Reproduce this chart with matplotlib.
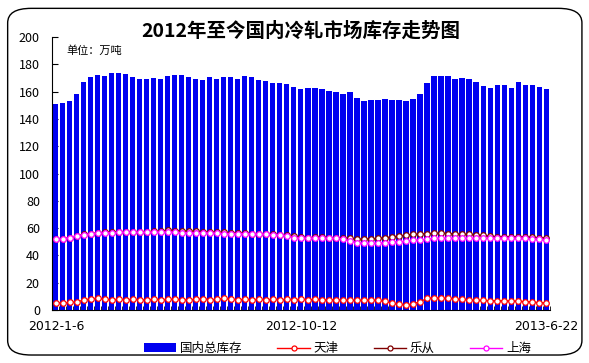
import numpy as np
import matplotlib.pyplot as plt
from matplotlib.patches import FancyBboxPatch

plt.rcParams['font.family'] = ['Noto Sans CJK SC', 'DejaVu Sans']

# weekly data, 2012-1-6 .. 2013-6-22 (71 weeks)
total = [151, 152, 153, 158, 167, 170.7, 172, 171.4, 173.4, 174,
         172.6, 170.4, 169.2, 169.2, 170.2, 169.2, 171.4, 172, 172, 170.4,
         169.2, 168.5, 170.4, 169.2, 170.7, 170.4, 169.2, 171.4, 170.4, 168.5,
         167.8, 166.5, 166, 165.6, 163.6, 162, 163, 163, 161.7, 160.4,
         160, 158.2, 159.5, 155, 152.9, 153.8, 153.8, 154.6, 153.8, 153.8,
         153.1, 154.3, 158.2, 166, 171.4, 171.4, 171.4, 169.2, 170.2, 168.9,
         167.4, 164, 163, 164.8, 164.8, 163, 166.8, 164.8, 164.8, 163.1,
         162]
tianjin = [5.4, 5.2, 5.6, 6.0, 7.3, 8.3, 8.6, 7.8, 7.6, 7.8,
           7.6, 7.8, 7.4, 7.6, 7.8, 7.6, 7.8, 7.8, 7.6, 7.6,
           7.8, 8.3, 7.6, 7.8, 8.6, 7.8, 7.6, 7.8, 7.6, 7.8,
           7.6, 7.8, 7.6, 7.8, 7.6, 7.8, 7.6, 7.8, 7.6, 7.4,
           7.6, 7.2, 7.0, 7.2, 7.0, 7.4, 7.0, 6.4, 4.8, 4.2,
           3.8, 4.6, 6.0, 8.5, 9.0, 8.6, 8.8, 8.0, 7.8, 7.4,
           7.0, 7.0, 6.8, 6.8, 6.8, 6.6, 6.4, 6.2, 6.0, 5.4,
           5.3]
lecong = [52, 52.2, 53, 54.5, 55.5, 56, 56.5, 57, 57.2, 57.2,
          57.2, 57.4, 57.4, 57.4, 57.6, 57.6, 58.6, 58.2, 58.0, 57.8,
          57.6, 57.4, 57.2, 57.0, 56.8, 56.6, 56.4, 56.2, 56.0, 55.8,
          55.6, 55.4, 55.2, 55.0, 54.0, 53.2, 53.0, 53.2, 53.4, 53.0,
          53.0, 52.6, 52.4, 51.8, 52.0, 52.2, 52.6, 53.0, 53.6, 54.2,
          55.0, 55.4, 55.6, 56.0, 56.2, 56.4, 56.0, 55.8, 55.6, 55.4,
          55.0, 54.6, 54.0, 53.8, 53.8, 53.6, 53.6, 53.4, 53.2, 53.0,
          52.8]
shanghai = [51.8, 52.0, 53.0, 54.5, 55.2, 55.8, 56.2, 56.5, 56.6, 56.8,
            56.8, 56.8, 56.8, 56.8, 57.0, 57.0, 57.0, 56.8, 56.6, 56.5,
            56.4, 56.4, 56.2, 56.2, 56.0, 56.0, 56.0, 55.8, 55.8, 55.6,
            55.4, 55.2, 55.0, 54.5, 53.0, 52.6, 52.5, 52.6, 52.6, 52.5,
            52.5, 52.0, 50.8, 49.4, 48.8, 48.8, 48.8, 49.2, 49.8, 50.0,
            50.4, 51.0, 51.2, 52.0, 52.4, 52.6, 52.6, 52.5, 52.6, 52.5,
            52.5, 52.6, 52.5, 52.5, 52.6, 52.5, 52.4, 52.5, 52.2, 51.8,
            51.5]
date_labels = ['2012-1-6', '2012-10-12', '2013-6-22']
date_pos = [0, 35, 70]

fig = plt.figure(figsize=(5.89, 3.63), dpi=100)
fig.patches.append(FancyBboxPatch((0.013, 0.022), 0.975, 0.955,
                                  boxstyle='round,pad=0,rounding_size=0.04',
                                  transform=fig.transFigure, fill=False,
                                  edgecolor='black', linewidth=1.0))

ax = fig.add_axes([0.089, 0.146, 0.844, 0.752])
x = np.arange(len(total))
bars = ax.bar(x, total, width=0.72, color='#0000F0', label='国内总库存', zorder=2)
l1, = ax.plot(x, tianjin, color='#FF0000', lw=1.0, marker='o', ms=4, mfc='white',
              mec='#FF0000', mew=0.9, label='天津', zorder=3)
l2, = ax.plot(x, lecong, color='#800000', lw=1.0, marker='o', ms=4, mfc='white',
              mec='#800000', mew=0.9, label='乐从', zorder=3)
l3, = ax.plot(x, shanghai, color='#FF00FF', lw=1.0, marker='o', ms=4, mfc='white',
              mec='#FF00FF', mew=0.9, label='上海', zorder=4)

ax.set_xlim(-0.5, len(total) - 0.5)
ax.set_ylim(0, 200)
ax.set_yticks(range(0, 201, 20))
ax.tick_params(axis='y', direction='in', length=4, labelsize=9, pad=9)
ax.set_xticks(np.arange(len(total) + 1) - 0.5, minor=True)
ax.set_xticks([])
ax.tick_params(axis='x', which='minor', direction='in', length=3)
ax.spines['top'].set_visible(False)
ax.spines['right'].set_visible(False)

for p, lab in zip(date_pos, date_labels):
    ax.text(p, -12, lab, ha='center', va='center', fontsize=9,
            family='DejaVu Sans')

ax.text(1.5, 190, '单位：万吨', fontsize=8, ha='left', va='center')
fig.text(0.51, 0.915, '2012年至今国内冷轧市场库存走势图', ha='center', va='center',
         fontsize=14, fontweight='bold')

leg = fig.legend(handles=[bars, l1, l2, l3], loc='center',
                 bbox_to_anchor=(0.573, 0.04), ncol=4, frameon=False,
                 fontsize=9, handlelength=2.6, columnspacing=2.8, handletextpad=0.3,
                 borderaxespad=0, markerscale=0.9)

fig.savefig('out.png', dpi=100)
